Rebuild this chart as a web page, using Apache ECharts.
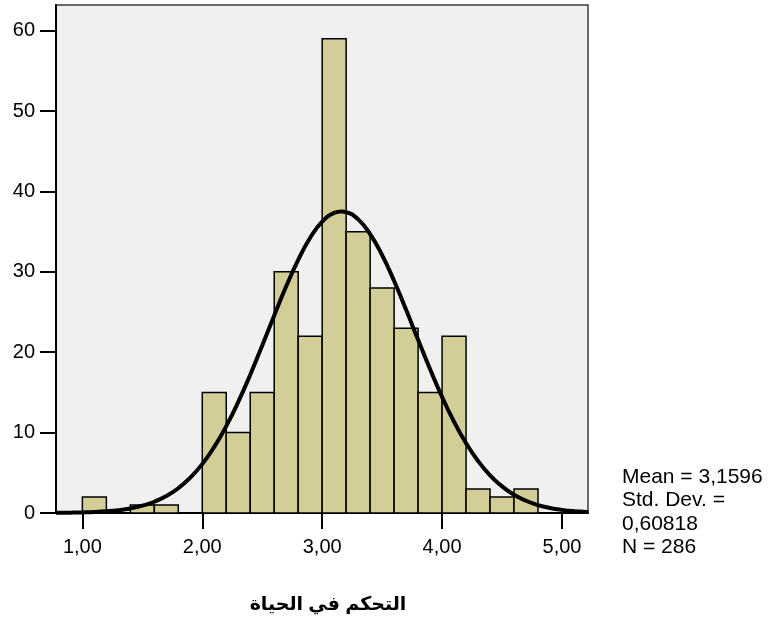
<!DOCTYPE html>
<html><head><meta charset="utf-8">
<script src="https://cdn.jsdelivr.net/npm/echarts@6/dist/echarts.min.js"></script>
<style>html,body{margin:0;padding:0;background:#fff}#c{width:772px;height:630px}</style>
</head><body><div id="c"></div>
<script>
// Histogram bins (start of each bin) and counts
const binStarts = [1.0,1.2,1.4,1.6,1.8,2.0,2.2,2.4,2.6,2.8,3.0,3.2,3.4,3.6,3.8,4.0,4.2,4.4,4.6];
const binCounts = [2,0,1,1,0,15,10,15,30,22,59,35,28,23,15,22,3,2,3];
const binWidth = 0.2;
// Normal curve points
const curveX = [0.78,0.8,0.9,1.0,1.1,1.2,1.3,1.4,1.5,1.6,1.7,1.8,1.9,2.0,2.1,2.2,2.3,2.4,2.5,2.6,2.7,2.8,2.9,3.0,3.1,3.16,3.2,3.3,3.4,3.5,3.6,3.7,3.8,3.9,4.0,4.1,4.2,4.3,4.4,4.5,4.6,4.7,4.8,4.9,5.0,5.1,5.2,5.22];
const curveY = [0.02,0.02,0.04,0.07,0.12,0.21,0.35,0.57,0.91,1.40,2.11,3.08,4.39,6.09,8.22,10.81,13.82,17.20,20.84,24.57,28.20,31.50,34.25,36.25,37.34,37.52,37.44,36.53,34.70,32.08,28.87,25.28,21.55,17.88,14.44,11.35,8.69,6.47,4.69,3.31,2.27,1.52,0.99,0.63,0.39,0.23,0.14,0.12];
const xTicks = [1,2,3,4,5];
const yTicks = [0,10,20,30,40,50,60];
const statsLines = ['Mean = 3,1596','Std. Dev. =','0,60818','N = 286'];
const xTitle = 'التحكم في الحياة';

const FONT = "Arial, 'Liberation Sans', sans-serif";
const chart = echarts.init(document.getElementById('c'));
chart.setOption({
  animation: false,
  backgroundColor: '#ffffff',
  grid: {left: 56, right: 184, top: 5, bottom: 117, show: true, backgroundColor: '#f0f0f0', borderColor: '#3a3a3a', borderWidth: 1.5},
  xAxis: {
    type: 'value', min: 0.78, max: 5.217,
    axisLine: {show: true, lineStyle: {color: '#000', width: 2}},
    axisTick: {show: true, length: 16, lineStyle: {color: '#000', width: 2}, customValues: xTicks},
    axisLabel: {customValues: xTicks, formatter: v => v.toFixed(2).replace('.', ','), fontSize: 20, color: '#000', fontFamily: FONT, margin: 24},
    splitLine: {show: false}
  },
  yAxis: {
    type: 'value', min: 0, max: 63.2,
    axisLine: {show: true, lineStyle: {color: '#000', width: 2}},
    axisTick: {show: true, length: 16, lineStyle: {color: '#000', width: 2}, customValues: yTicks},
    axisLabel: {customValues: yTicks, formatter: v => String(v), fontSize: 20, color: '#000', fontFamily: FONT, margin: 21},
    splitLine: {show: false}
  },
  series: [
    {
      type: 'custom',
      data: binStarts.map((s, i) => [s, binCounts[i]]),
      renderItem: function (params, api) {
        const x0 = api.value(0), v = api.value(1);
        if (!v) return null;
        const p0 = api.coord([x0, v]);
        const p1 = api.coord([x0 + binWidth, 0]);
        return {type: 'rect', shape: {x: p0[0], y: p0[1], width: p1[0] - p0[0], height: p1[1] - p0[1]},
          style: {fill: '#d3ce97', stroke: '#000', lineWidth: 1.5}};
      }
    },
    {
      type: 'line', data: curveX.map((x, i) => [x, curveY[i]]), smooth: true, symbol: 'none',
      lineStyle: {color: '#000', width: 4}, z: 5
    }
  ],
  graphic: [
    {type: 'text', left: 622, top: 465, style: {text: statsLines.join('\n'), fontSize: 21, lineHeight: 23.6, fill: '#000', fontFamily: FONT}},
    {type: 'text', x: 328, y: 605, style: {text: xTitle, fontSize: 19, fontWeight: 'bold', fill: '#000', align: 'center', verticalAlign: 'middle', fontFamily: "Arial, 'DejaVu Sans', sans-serif"}}
  ]
});
</script></body></html>
